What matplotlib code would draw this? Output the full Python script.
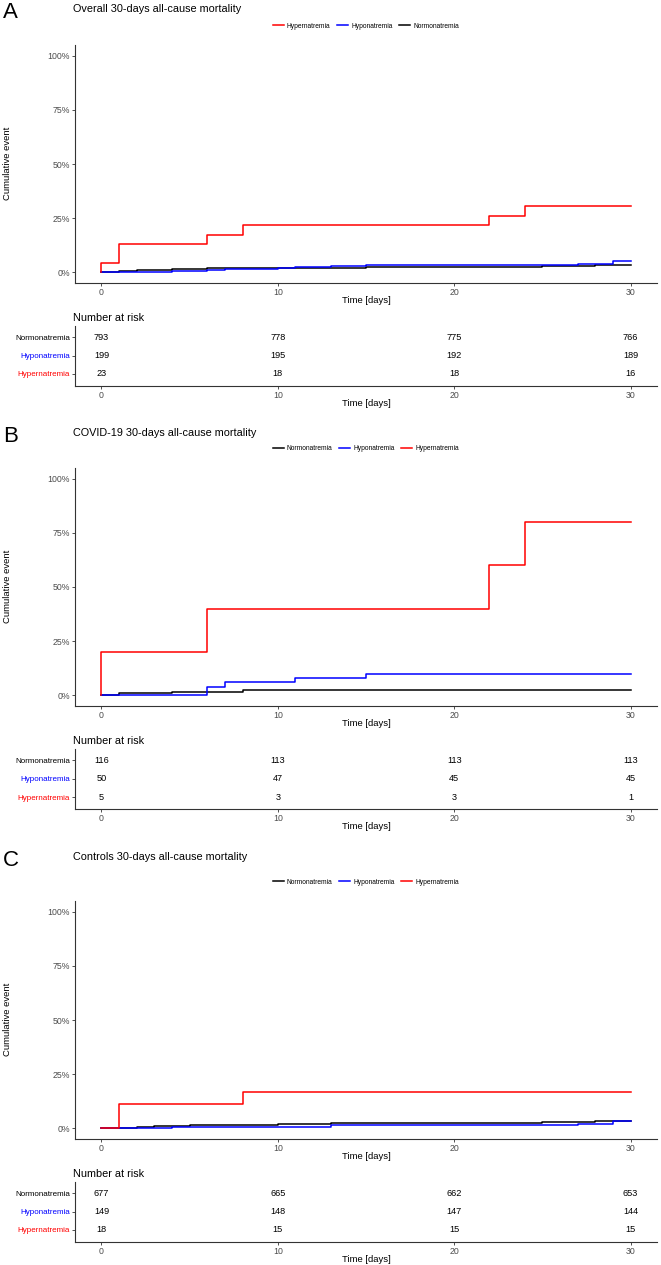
import matplotlib
matplotlib.use('Agg')
import matplotlib.pyplot as plt
from matplotlib.lines import Line2D

plt.rcParams['font.family'] = ['Liberation Sans', 'DejaVu Sans']

W, H = 661, 1265

# ---- data (cumulative event in %, step times in days) ----
groups = ['Normonatremia', 'Hyponatremia', 'Hypernatremia']
colors = {'Normonatremia': 'black', 'Hyponatremia': '#0000FF', 'Hypernatremia': '#FF0000'}
risk_times = [0, 10, 20, 30]

# A: overall
a_normo_t = [0, 1, 2, 4, 5, 6, 7, 10, 13, 15, 23, 25, 27, 28, 29]
a_normo_v = [0.13, 0.5, 1.0, 1.4, 1.6, 1.8, 1.9, 2.0, 2.1, 2.3, 2.5, 2.8, 3.0, 3.2, 3.4]
a_hypo_t = [4, 6, 7, 10, 11, 13, 15, 27, 29]
a_hypo_v = [0.5, 1.0, 1.5, 2.0, 2.5, 3.0, 3.5, 4.0, 5.0]
a_hyper_t = [0, 1, 6, 8, 22, 24]
a_hyper_v = [4.3, 13.0, 17.4, 21.7, 26.1, 30.4]
a_risk_normo = [793, 778, 775, 766]
a_risk_hypo = [199, 195, 192, 189]
a_risk_hyper = [23, 18, 18, 16]

# B: COVID-19
b_normo_t = [1, 4, 8]
b_normo_v = [0.86, 1.7, 2.6]
b_hypo_t = [6, 7, 11, 15]
b_hypo_v = [4.0, 6.0, 8.0, 10.0]
b_hyper_t = [0, 6, 22, 24]
b_hyper_v = [20.0, 40.0, 60.0, 80.0]
b_risk_normo = [116, 113, 113, 113]
b_risk_hypo = [50, 47, 45, 45]
b_risk_hyper = [5, 3, 3, 1]

# C: controls
c_normo_t = [2, 3, 4, 5, 7, 10, 13, 23, 25, 26, 28, 29]
c_normo_v = [0.7, 1.0, 1.2, 1.5, 1.6, 1.8, 2.2, 2.5, 2.7, 2.8, 3.2, 3.5]
c_hypo_t = [4, 13, 27, 29]
c_hypo_v = [0.67, 1.34, 2.0, 3.4]
c_hyper_t = [1, 8]
c_hyper_v = [11.1, 16.7]
c_risk_normo = [677, 665, 662, 653]
c_risk_hypo = [149, 148, 147, 144]
c_risk_hyper = [18, 15, 15, 15]

panels = [
    dict(letter='A', title='Overall 30-days all-cause mortality', off=0, head=0,
         legend_order=['Hypernatremia', 'Hyponatremia', 'Normonatremia'],
         curves={'Normonatremia': (a_normo_t, a_normo_v), 'Hyponatremia': (a_hypo_t, a_hypo_v),
                 'Hypernatremia': (a_hyper_t, a_hyper_v)},
         risk={'Normonatremia': a_risk_normo, 'Hyponatremia': a_risk_hypo, 'Hypernatremia': a_risk_hyper}),
    dict(letter='B', title='COVID-19 30-days all-cause mortality', off=423, head=424,
         legend_order=['Normonatremia', 'Hyponatremia', 'Hypernatremia'],
         curves={'Normonatremia': (b_normo_t, b_normo_v), 'Hyponatremia': (b_hypo_t, b_hypo_v),
                 'Hypernatremia': (b_hyper_t, b_hyper_v)},
         risk={'Normonatremia': b_risk_normo, 'Hyponatremia': b_risk_hypo, 'Hypernatremia': b_risk_hyper}),
    dict(letter='C', title='Controls 30-days all-cause mortality', off=856, head=848,
         legend_order=['Normonatremia', 'Hyponatremia', 'Hypernatremia'],
         curves={'Normonatremia': (c_normo_t, c_normo_v), 'Hyponatremia': (c_hypo_t, c_hypo_v),
                 'Hypernatremia': (c_hyper_t, c_hyper_v)},
         risk={'Normonatremia': c_risk_normo, 'Hyponatremia': c_risk_hypo, 'Hypernatremia': c_risk_hyper}),
]

fig = plt.figure(figsize=(W / 100, H / 100), dpi=100)


def px_axes(x0, y0, x1, y1):
    return fig.add_axes([x0 / W, 1 - y1 / H, (x1 - x0) / W, (y1 - y0) / H])


def px_text(x, y, s, **kw):
    fig.text(x / W, 1 - y / H, s, **kw)


def style_axes(ax):
    for side in ['top', 'right']:
        ax.spines[side].set_visible(False)
    for side in ['left', 'bottom']:
        ax.spines[side].set_linewidth(0.8)
        ax.spines[side].set_color('#333333')
    ax.tick_params(length=2.5, width=0.6, color='#333333', labelsize=6.3,
                   labelcolor='#4D4D4D', pad=1.2)
    ax.set_xlim(-1.5, 31.5)
    ax.set_xticks(risk_times)


for p in panels:
    off = p['off']
    head = p['head']

    # panel letter and title
    px_text(3, 13 + head, p['letter'], fontsize=16, va='center', ha='left')
    px_text(73, 9 + head, p['title'], fontsize=7.8, va='center', ha='left')

    # main curves
    ax = px_axes(75, 45 + off, 657, 283 + off)
    style_axes(ax)
    for g in groups:
        t, v = p['curves'][g]
        ax.step([0] + t + [30], [0] + v + [v[-1]], where='post',
                color=colors[g], lw=1.1, zorder=3 if g == 'Hypernatremia' else 2)
    ax.set_ylim(-5, 105)
    ax.set_yticks([0, 25, 50, 75, 100])
    ax.set_yticklabels(['0%', '25%', '50%', '75%', '100%'])
    ax.set_xlabel('Time [days]', fontsize=6.8, labelpad=-1)
    px_text(8, 163 + off, 'Cumulative event', fontsize=6.8, rotation=90, va='center', ha='center')

    handles = [Line2D([], [], color=colors[g], lw=1.1) for g in p['legend_order']]
    fig.legend(handles, p['legend_order'], loc='center', bbox_to_anchor=(366 / W, 1 - (26 + off) / H),
               ncol=3, frameon=False, fontsize=4.8, handlelength=1.6, columnspacing=1.0,
               handletextpad=0.5)

    # number at risk table
    px_text(73, 318 + off, 'Number at risk', fontsize=7.8, va='center', ha='left')
    rax = px_axes(75, 326 + off, 657, 386 + off)
    style_axes(rax)
    rax.set_ylim(0.35, 3.6)
    rows = {'Normonatremia': 3, 'Hyponatremia': 2, 'Hypernatremia': 1}
    for g in groups:
        for t, n in zip(risk_times, p['risk'][g]):
            rax.text(t, rows[g], str(n), fontsize=6.6, ha='center', va='center', color='black')
    rax.set_yticks([rows[g] for g in groups])
    rax.set_yticklabels(groups, fontsize=5.8)
    for lab, g in zip(rax.get_yticklabels(), groups):
        lab.set_color(colors[g])
    rax.set_xlabel('Time [days]', fontsize=6.8, labelpad=-1)

fig.savefig('out.png', dpi=100)
